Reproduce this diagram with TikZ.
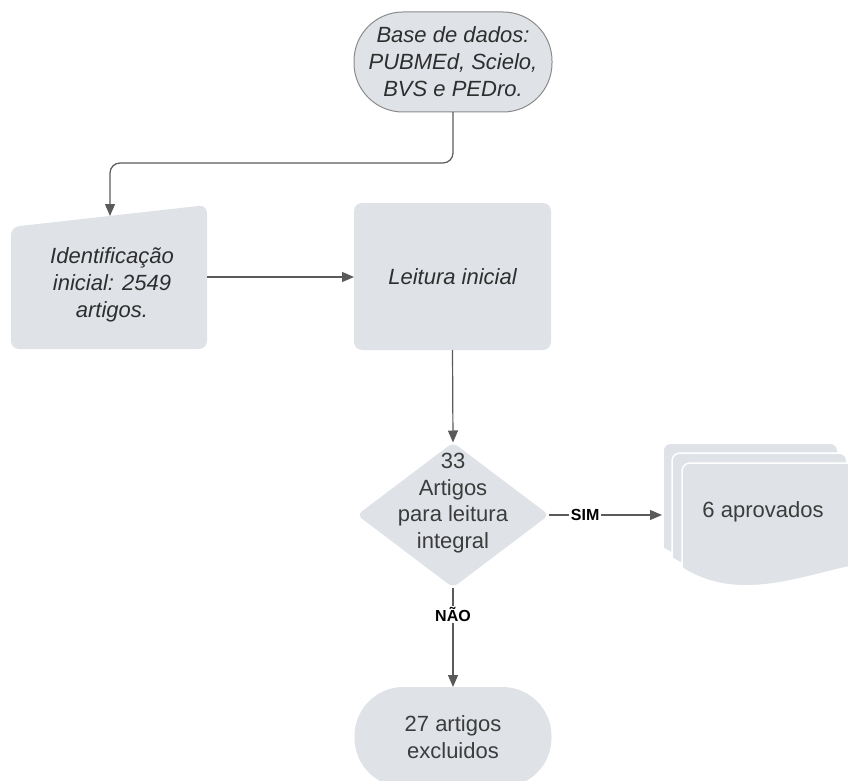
\documentclass[tikz,border=0pt]{standalone}
\usepackage{fontspec}
\setmainfont{Liberation Sans}
\usetikzlibrary{shapes.geometric,arrows.meta}
\definecolor{boxfill}{HTML}{DFE3E8}
\definecolor{linec}{HTML}{5A5A5A}
\definecolor{txt}{HTML}{2E2E2E}
\definecolor{txtb}{HTML}{3C3C3C}
\definecolor{bordc}{HTML}{8A8A8A}
\newcommand{\docpage}[2]{%
  \filldraw[fill=boxfill, draw=white, line width=1.5pt]
    (#1,#2+105) -- (#1,#2+8) .. controls (#1,#2+3.6) and (#1+3.6,#2) .. (#1+8,#2)
    -- (#1+167,#2) .. controls (#1+171.4,#2) and (#1+175,#2+3.6) .. (#1+175,#2+8)
    -- (#1+175,#2+102) .. controls (#1+115,#2+115) and (#1+55,#2+140) .. (#1,#2+105) -- cycle;}
\begin{document}
\begin{tikzpicture}[x=1pt,y=-1pt,
  font=\fontsize{22}{27}\selectfont,
  every node/.style={inner sep=0pt, outer sep=0pt},
  conn/.style={draw=linec, line width=1.2pt, -{Triangle[length=12pt,width=10pt]}},
  startbox/.style={rectangle, rounded corners=49pt, minimum width=198pt, minimum height=100pt, fill=boxfill, draw=bordc, line width=1pt, align=center, text=txt, font=\fontsize{22}{27}\selectfont\itshape},
  procbox/.style={rectangle, rounded corners=8pt, minimum width=197pt, minimum height=147pt, fill=boxfill, align=center, text=txt, font=\fontsize{22}{27}\selectfont\itshape},
  decbox/.style={diamond, rounded corners=6pt, minimum width=192pt, minimum height=145pt, fill=boxfill},
  endbox/.style={rectangle, rounded corners=49pt, minimum width=197pt, minimum height=100pt, fill=boxfill, align=center, text=txtb},
  lab/.style={fill=white, inner sep=1.5pt, text=black, font=\fontsize{16}{19}\selectfont\bfseries},
  plain/.style={align=center, text=txtb, font=\fontsize{22}{26.7}\selectfont}]
\useasboundingbox (0,0) rectangle (848,781);
\clip (0,0) rectangle (848,781);

% start terminal
\node[startbox] (top) at (453,62) {Base de dados:\\PUBMEd, Scielo,\\BVS e PEDro.};

% manual input shape
\fill[boxfill, rounded corners=8pt] (11,227) -- (207,205) -- (207,349) -- (11,349) -- cycle;
\node[align=center, text=txt, font=\fontsize{22}{27}\selectfont\itshape] (ident) at (112,285) {Identificação\\inicial: 2549\\artigos.};
\coordinate (identtop) at (110,216);
\coordinate (identright) at (207,277);

% process
\node[procbox] (leit) at (452.5,276.5) {Leitura inicial};

% decision
\node[decbox] (dec) at (453,515) {};
\node[plain] (dectext) at (453,503) {33\\Artigos\\para leitura\\integral};

% multi-document
\docpage{663}{443}
\docpage{672}{453}
\docpage{682}{463}
\node[plain] (docs) at (763,512) {6 aprovados};
\coordinate (docin) at (662,515);

% end terminal
\node[endbox] (bot) at (453,737) {27 artigos\\excluidos};

% connectors
\draw[conn, rounded corners=10pt] (top.south) -- ++(0,51) -| (identtop);
\draw[conn] (identright) -- (leit.west |- identright);
\draw[conn] (leit.south) -- (dec.north);
\draw[conn] (dec.east) -- node[lab, pos=0.32] {SIM} (docin);
\draw[conn] (dec.south) -- node[lab, pos=0.27] {NÃO} (bot.north);
\end{tikzpicture}
\end{document}
